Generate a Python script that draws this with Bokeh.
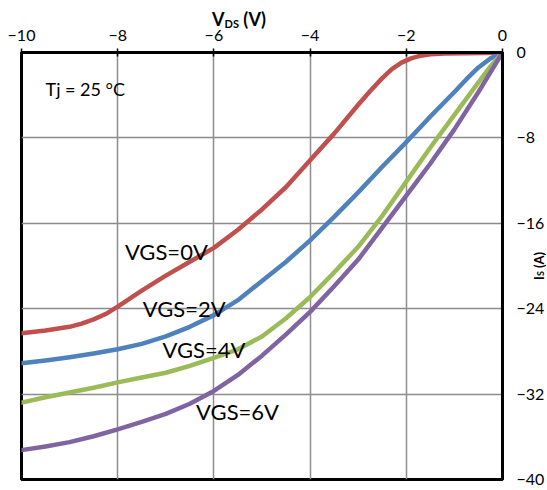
from bokeh.plotting import figure
from bokeh.models import Range1d, FixedTicker, Label, Div
from bokeh.layouts import column
from bokeh.embed import file_html
from bokeh.resources import INLINE

# ---- data ----
vds_0 = [-10, -9.5, -9, -8.75, -8.5, -8.25, -8, -7.75, -7.5, -7, -6.5, -6, -5.5, -5, -4.5, -4, -3.5, -3,
         -2.75, -2.5, -2.3, -2.1, -1.9, -1.7, -1.5, -1.2, -0.8, -0.4, 0]
is_0 = [-26.3, -26.05, -25.7, -25.4, -25.0, -24.5, -23.8, -23.05, -22.3, -20.9, -19.6, -18.3, -16.6, -14.7,
        -12.6, -10.1, -7.6, -4.9, -3.6, -2.4, -1.55, -0.95, -0.55, -0.3, -0.17, -0.1, -0.07, -0.04, 0]

vds_2 = [-10, -9.5, -9, -8.5, -8, -7.5, -7, -6.5, -6, -5.5, -5, -4.5, -4, -3.5, -3, -2.5, -2, -1.5, -1,
         -0.75, -0.5, -0.25, 0]
is_2 = [-29.1, -28.85, -28.55, -28.2, -27.8, -27.3, -26.6, -25.7, -24.6, -23.2, -21.4, -19.6, -17.6, -15.4,
        -13.1, -10.7, -8.4, -6.0, -3.7, -2.5, -1.4, -0.55, 0]

vds_4 = [-10, -9.5, -9, -8.5, -8, -7.5, -7, -6.5, -6, -5.5, -5, -4.5, -4, -3.5, -3, -2.5, -2, -1.5, -1,
         -0.5, -0.25, 0]
is_4 = [-32.8, -32.3, -31.85, -31.4, -30.9, -30.45, -30.0, -29.35, -28.6, -27.8, -26.6, -24.9, -22.9, -20.6,
        -18.2, -15.3, -12.1, -8.9, -5.85, -2.8, -1.3, 0]

vds_6 = [-10, -9.5, -9, -8.5, -8, -7.5, -7, -6.5, -6, -5.5, -5, -4.5, -4, -3.5, -3, -2.5, -2, -1.5, -1,
         -0.5, 0]
is_6 = [-37.25, -36.9, -36.5, -35.95, -35.3, -34.6, -33.85, -32.9, -31.7, -30.2, -28.4, -26.4, -24.3, -21.9,
        -19.4, -16.4, -13.4, -10.4, -7.2, -3.7, 0]

series_names = ["VGS=0V", "VGS=2V", "VGS=4V", "VGS=6V"]
series_colors = ["#C0504D", "#4F81BD", "#9BBB59", "#8064A2"]

x_ticks = [-10, -8, -6, -4, -2, 0]
y_ticks = [-40, -32, -24, -16, -8, 0]

# annotation anchors (data units)
name_x = [-7.85, -7.48, -7.07, -6.37]
name_y = [-18.66, -23.99, -27.83, -33.63]

FONT = "Lato"
W, H = 547, 490
TITLE_H = 28

p = figure(width=W, height=H, x_range=Range1d(-10, 0), y_range=Range1d(-40, 0),
           x_axis_location="above", y_axis_location="right",
           output_backend="svg", toolbar_location=None,
           min_border_left=21, min_border_right=41, min_border_top=52, min_border_bottom=11,
           margin=0)
p.background_fill_color = "white"
p.border_fill_color = "white"
p.outline_line_color = "black"
p.outline_line_width = 3

xa = p.xaxis[0]
xa.ticker = FixedTicker(ticks=x_ticks)
xa.axis_line_width = 3
xa.axis_line_color = "black"
xa.major_tick_in = 4
xa.major_tick_out = 4
xa.major_tick_line_width = 1.5
xa.major_tick_line_color = "black"
xa.minor_tick_line_color = None
xa.major_label_text_font = FONT
xa.major_label_text_font_size = "16px"
xa.major_label_text_color = "black"
xa.major_label_standoff = 8

ya = p.yaxis[0]
ya.ticker = FixedTicker(ticks=y_ticks)
ya.axis_line_width = 3
ya.axis_line_color = "black"
ya.major_tick_in = 0
ya.major_tick_out = 0
ya.minor_tick_line_color = None
ya.major_label_text_font = FONT
ya.major_label_text_font_size = "16px"
ya.major_label_text_color = "black"
ya.major_label_standoff = 14

p.xgrid.ticker = FixedTicker(ticks=x_ticks)
p.ygrid.ticker = FixedTicker(ticks=y_ticks)
for g in (p.xgrid[0], p.ygrid[0]):
    g.grid_line_color = "#8c8c8c"
    g.grid_line_width = 1.5

for xs, ys, c in zip([vds_0, vds_2, vds_4, vds_6], [is_0, is_2, is_4, is_6], series_colors):
    p.line(xs, ys, line_color=c, line_width=4.5, line_join="round", line_cap="round")

for t, x, y in zip(series_names, name_x, name_y):
    p.add_layout(Label(x=x, y=y, text=t, text_font=FONT, text_font_size="22px",
                       text_color="black", text_baseline="alphabetic"))

p.add_layout(Label(x=-9.5, y=-3.42, text="Tj = 25 °C", text_font=FONT, text_font_size="18px",
                   text_color="black", text_baseline="alphabetic"))

# axis titles (outside the plot frame) as HTML text laid over the figure
title_div = Div(
    text=('<div style="font-family:Lato;font-size:18px;font-weight:bold;line-height:18px;'
          'padding:10px 0 0 212px;white-space:nowrap;color:black">'
          'V<span style="font-size:11px;position:relative;top:2px">DS</span> (V)</div>'),
    width=W, height=TITLE_H, margin=(-H, 0, 0, 0))

right_div = Div(
    text=('<div style="font-family:Lato;font-size:13px;font-weight:bold;line-height:16px;'
          'writing-mode:vertical-rl;transform:rotate(180deg);white-space:nowrap;color:black;'
          'height:44px;width:16px">'
          'I<span style="font-size:9px;position:relative;left:-2px">S</span> (A)</div>'),
    width=16, height=44, margin=(236 - TITLE_H, 0, 0, 531))

layout = column(p, title_div, right_div, spacing=0, margin=0)

open("out.html", "w").write(file_html(layout, INLINE))
